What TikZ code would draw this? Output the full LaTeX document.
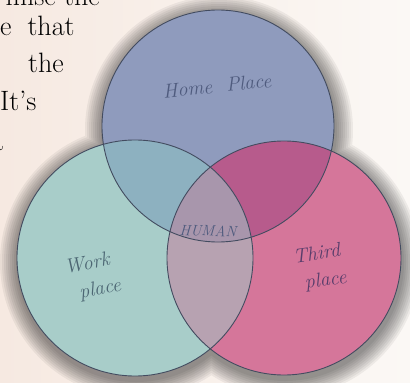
\documentclass[tikz,border=0pt]{standalone}
\usepackage{xcolor}
\usepackage{tikz}

\definecolor{pagecream}{HTML}{F6E9E1}
\definecolor{pagewhite}{HTML}{FBF8F5}
\definecolor{homeblue}{HTML}{8F9BBD}
\definecolor{workteal}{HTML}{A8CDC9}
\definecolor{thirdpink}{HTML}{D5769A}
\definecolor{homework}{HTML}{8DB1C0}
\definecolor{homethird}{HTML}{B75B8C}
\definecolor{workthird}{HTML}{B7A2B1}
\definecolor{humanmauve}{HTML}{A896AC}
\definecolor{rimgray}{HTML}{434C60}
\definecolor{inkblue}{HTML}{4F5B7E}
\definecolor{inkteal}{HTML}{4C6673}
\definecolor{inkplum}{HTML}{573D6B}

\begin{document}
\begin{tikzpicture}[x=1pt, y=-1pt,
  rim/.style={draw=rimgray, line width=0.9pt},
  hand/.style={text=inkblue, inner sep=0pt, font=\fontsize{20}{27}\selectfont\itshape},
  page/.style={inner sep=0pt, font=\fontsize{28}{34}\selectfont}]

% Page and clipping
\useasboundingbox (0,0) rectangle (410,383);
\clip (0,0) rectangle (410,383);
\fill[left color=pagecream, right color=pagewhite] (0,0) rectangle (410,383);

% Running text of the book page
\node[page, anchor=base east] (line1) at (100,5) {mise the};
\node[page, anchor=base west] (line2) at (0,35) {e\hspace{16pt}that};
\node[page, anchor=base west] (line3) at (28,72) {the};
\node[page, anchor=base west] (line4) at (0,110) {It’s};
\node[page, anchor=base west] (line5) at (-10,150) {a};

% Centres of the three circles
\coordinate (home) at (218,126);
\coordinate (work) at (135,258);
\coordinate (third) at (284,258);

% Soft shadow round the three circles
\foreach \s in {18,16,...,2}
  \fill[black, opacity=0.055] ([shift={(1,4)}]home) circle[radius=116+\s]
    ([shift={(1,4)}]work) circle[radius=118+\s]
    ([shift={(1,4)}]third) circle[radius=117+\s];

% The three places
\fill[homeblue] (home) circle[radius=116];
\fill[workteal] (work) circle[radius=118];
\fill[thirdpink] (third) circle[radius=117];

% Overlaps of two places
\begin{scope}
  \clip (home) circle[radius=116];
  \fill[homework] (work) circle[radius=118];
  \fill[homethird] (third) circle[radius=117];
\end{scope}
\begin{scope}
  \clip (work) circle[radius=118];
  \fill[workthird] (third) circle[radius=117];
  % Overlap of all three
  \clip (third) circle[radius=117];
  \fill[humanmauve] (home) circle[radius=116];
\end{scope}

% Outlines
\draw[rim] (home) circle[radius=116];
\draw[rim] (work) circle[radius=118];
\draw[rim] (third) circle[radius=117];

% Handwritten labels
\node[hand, rotate=6] (homelabel) at (217,86) {Home\hspace{14pt}Place};
\node[hand, font=\fontsize{15}{17}\selectfont\itshape, rotate=-2] (human) at (208,231) {HUMAN};
\node[hand, text=inkteal, align=left, rotate=10] (worklabel) at (93,277) {Work\\\hspace{10pt}place};
\node[hand, text=inkplum, align=left, rotate=8] (thirdlabel) at (320,268) {Third\\\hspace{8pt}place};

\end{tikzpicture}
\end{document}
